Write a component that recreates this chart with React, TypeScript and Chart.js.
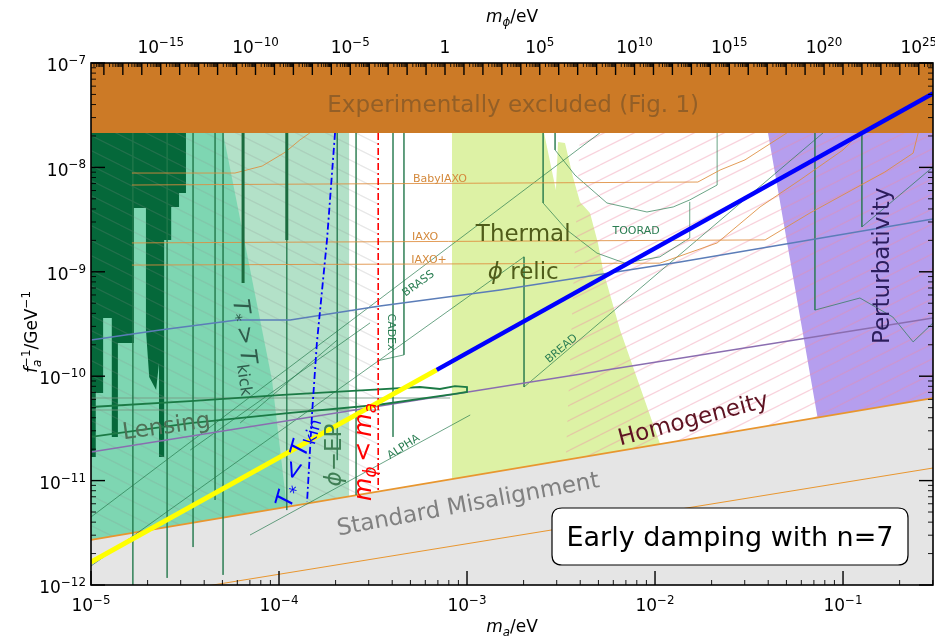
import React, { useEffect, useRef } from 'react';
import { Chart, registerables } from 'chart.js';
Chart.register(...registerables);

const FONT = '"DejaVu Sans", sans-serif';
type P = [number, number];

// ---- axis ranges ----
const X_MIN = 1e-5, X_MAX = 0.301;
const Y_MIN = 1e-12, Y_MAX = 1e-7;
const PHI_MIN = 2.09e-19, PHI_MAX = 5.62e25;

// ---- tick labels ----
const xTickValues = [1e-5, 1e-4, 1e-3, 1e-2, 1e-1];
const xTickExps = ['−5', '−4', '−3', '−2', '−1'];
const yTickValues = [1e-12, 1e-11, 1e-10, 1e-9, 1e-8, 1e-7];
const yTickExps = ['−12', '−11', '−10', '−9', '−8', '−7'];
const phiTickValues = [1e-15, 1e-10, 1e-5, 1, 1e5, 1e10, 1e15, 1e20, 1e25];
const phiTickExps = ['−15', '−10', '−5', '', '5', '10', '15', '20', '25'];

// ---- regions (m_a [eV], 1/f_a [GeV^-1]) ----
const excludedBand: P[] = [[1e-5, 2.14e-8], [0.301, 2.14e-8]];
const misalignLine: P[] = [[1e-5, 2.70e-12], [0.301, 6.18e-11]];
const misalignThin: P[] = [[1e-5, 6.46e-13], [0.301, 1.32e-11]];
const lightGreenRegion: P[] = [[1e-5, 2.14e-8], [2.36e-4, 2.14e-8], [2.36e-4, 1e-12], [1e-5, 1e-12]];
const tealRegion: P[] = [[1e-5, 2.14e-8], [5.04e-5, 2.14e-8], [9.18e-5, 9.2e-11], [1.10e-4, 5.58e-12], [1.2e-4, 1e-12], [1e-5, 1e-12]];
const darkGreenRegion: P[] = [
  [1e-5, 2.14e-8], [3.20e-5, 2.14e-8], [3.20e-5, 5.69e-9], [2.94e-5, 5.69e-9], [2.94e-5, 4.18e-9],
  [2.67e-5, 4.18e-9], [2.67e-5, 2.02e-9], [2.45e-5, 2.02e-9], [2.45e-5, 1.68e-11], [2.30e-5, 1.68e-11],
  [2.30e-5, 1.34e-10], [2.22e-5, 7.38e-11], [2.04e-5, 9.82e-11], [1.96e-5, 2.77e-10], [1.96e-5, 4.09e-9],
  [1.69e-5, 4.09e-9], [1.69e-5, 2.08e-10], [1.39e-5, 2.08e-10], [1.39e-5, 2.62e-11], [1.29e-5, 2.62e-11],
  [1.29e-5, 3.61e-10], [1.16e-5, 3.61e-10], [1.16e-5, 6.90e-11], [1.06e-5, 6.90e-11], [1.06e-5, 1.68e-11],
  [1e-5, 1.68e-11],
];
const thermalRegion: P[] = [
  [8.32e-4, 2.14e-8], [2.57e-3, 2.14e-8], [2.97e-3, 6.08e-9], [3.05e-3, 1.75e-8], [3.32e-3, 1.71e-8],
  [3.66e-3, 8.09e-9], [3.99e-3, 4.67e-9], [4.51e-3, 3.66e-9], [4.97e-3, 1.89e-9], [5.29e-3, 1.04e-9],
  [6.52e-3, 2.77e-10], [1.064e-2, 2.24e-11], [1.89e-2, 1e-12], [8.32e-4, 1e-12],
];
const grayHatchRegion: P[] = [[1e-5, 2.14e-8], [3.37e-4, 2.14e-8], [3.37e-4, 1e-12], [1e-5, 1e-12]];
const pinkHatchRegion: P[] = [[3.99e-3, 2.14e-8], [0.301, 2.14e-8], [0.301, 1e-12], [3.13e-3, 1e-12]];
const purpleRegion: P[] = [[3.99e-2, 2.14e-8], [0.301, 2.14e-8], [0.301, 1e-12], [0.105, 1e-12], [7.36e-2, 3.80e-11]];

// ---- main damping line ----
const dampYellow: P[] = [[1e-5, 1.66e-12], [6.9e-4, 1.15e-10]];
const dampBlue: P[] = [[6.9e-4, 1.15e-10], [0.301, 5.1e-8]];

// ---- other curves ----
const steelBlueLine: P[] = [[1e-5, 2.22e-10], [2.33e-5, 2.77e-10], [5.98e-5, 3.45e-10], [1.146e-4, 3.45e-10], [3.44e-4, 4.70e-10], [1.50e-3, 6.69e-10], [1.358e-2, 1.24e-9], [0.301, 3.21e-9]];
const purpleLine: P[] = [[1e-5, 1.88e-11], [0.301, 3.61e-10]];
const greenLoop: P[] = [
  [1e-5, 5.07e-11], [3.37e-5, 5.78e-11], [1.05e-4, 6.61e-11], [3.05e-4, 7.38e-11], [5.62e-4, 7.88e-11],
  [7.18e-4, 7.54e-11], [8.63e-4, 8.05e-11], [1.0e-3, 7.88e-11], [1.0e-3, 7.06e-11], [8.63e-4, 6.76e-11],
  [3.32e-4, 5.30e-11], [1.15e-4, 4.45e-11], [3.37e-5, 3.56e-11], [1e-5, 2.62e-11],
];
const paleLines: P[][] = [
  [[1e-5, 6.18e-11], [8.13e-4, 6.18e-11]],
  [[1e-5, 4.74e-11], [3.44e-4, 4.74e-11]],
];
const thickGreenLines: P[][] = [
  [[6.44e-5, 2.14e-8], [6.44e-5, 7.81e-10]],
  [[1.10e-4, 2.14e-8], [1.10e-4, 2.02e-9]],
];
const outlineLines: P[][] = [
  [[1.67e-5, 2.14e-8], [1.67e-5, 1e-12]],
  [[2.54e-5, 2.14e-8], [2.54e-5, 1.17e-12]],
  [[3.49e-5, 2.14e-8], [3.49e-5, 2.31e-12]],
  [[4.57e-5, 2.14e-8], [4.57e-5, 6.52e-12]],
  [[5.04e-5, 2.14e-8], [5.04e-5, 1.25e-12]],
  [[1.10e-4, 2.14e-8], [1.10e-4, 5.22e-12]],
  [[2.04e-4, 2.14e-8], [2.04e-4, 1.57e-11]],
  [[2.57e-4, 2.14e-8], [2.57e-4, 7.28e-12]],
  [[4.04e-4, 2.14e-8], [4.04e-4, 2.62e-11]],
  [[4.62e-4, 2.14e-8], [4.62e-4, 1.60e-10], [3.32e-4, 1.40e-10]],
  [[1e-5, 4.48e-12], [5.09e-3, 2.14e-8]],
  [[1e-5, 1.52e-12], [2.01e-3, 1.39e-9], [2.01e-3, 7.88e-11], [7.83e-2, 2.14e-8]],
  [[7.01e-5, 3.01e-12], [1.04e-3, 4.25e-11]],
  [[3.37e-5, 1.96e-11], [3.05e-4, 3.24e-10]],
  [[6.21e-5, 3.56e-11], [2.04e-4, 2.22e-10]],
  [[2.94e-3, 2.14e-8], [2.94e-3, 1.47e-8], [3.75e-3, 8.45e-9], [5.55e-3, 4.56e-9], [9.06e-3, 3.74e-9], [1.25e-2, 4.18e-9], [1.53e-2, 4.88e-9], [2.14e-2, 6.78e-9], [2.14e-2, 2.14e-8]],
  [[2.54e-3, 2.14e-8], [2.54e-3, 4.56e-9], [3.40e-3, 2.51e-9], [4.91e-3, 1.51e-9], [6.92e-3, 1.21e-9], [1.06e-2, 1.39e-9], [1.53e-2, 2.11e-9], [1.53e-2, 4.67e-9]],
  [[7.09e-2, 2.14e-8], [7.09e-2, 4.30e-10], [0.123, 5.61e-10], [0.184, 3.69e-10], [0.236, 2.13e-10], [0.301, 3.24e-10]],
  [[0.126, 2.14e-8], [0.126, 2.69e-9], [0.301, 1.01e-8]],
];
const orangeLines: P[][] = [
  [[1.65e-5, 6.78e-9], [1.69e-2, 7.24e-9], [2.22e-2, 9.44e-9], [3.01e-2, 1.18e-8], [5.03e-2, 2.14e-8]],
  [[1.65e-5, 8.83e-9], [5.83e-5, 8.83e-9], [8.13e-5, 1.03e-8], [1.08e-4, 1.40e-8], [1.29e-4, 1.83e-8], [1.46e-4, 2.14e-8]],
  [[1.65e-5, 1.89e-9], [3.85e-2, 2.02e-9], [6.67e-2, 3.66e-9], [0.167, 9.04e-9], [0.236, 1.37e-8], [0.251, 2.14e-8]],
  [[1.65e-5, 1.16e-9], [1.06e-2, 1.21e-9], [2.14e-2, 1.89e-9], [3.62e-2, 4.18e-9], [5.90e-2, 7.57e-9], [0.1, 1.47e-8], [0.123, 2.14e-8]],
];
const redDashDot: P[] = [[3.37e-4, 2.14e-8], [3.37e-4, 7.78e-12]];
const blueDashDot: P[] = [[1.986e-4, 2.14e-8], [1.80e-4, 2.02e-9], [1.59e-4, 2.08e-10], [1.50e-4, 4.45e-11], [1.41e-4, 6.24e-12]];

// ---- text annotations ----
type Seg = { t: string; s?: 'sub' | 'sup'; it?: boolean; sup?: string };
type Label = { segs: Seg[]; x: number; y: number; size: number; color: string; rot: number };
const TS = '\u2009';
const textLabels: Label[] = [
  { segs: [{ t: 'Experimentally excluded (Fig. 1)' }], x: 1.76e-3, y: 4.05e-8, size: 23, color: '#935f27', rot: 0 },
  { segs: [{ t: 'Thermal' }], x: 1.99e-3, y: 2.36e-9, size: 23, color: '#4f5c1a', rot: 0 },
  { segs: [{ t: 'ϕ', it: true }, { t: ' relic' }], x: 1.99e-3, y: 1.02e-9, size: 23, color: '#4f5c1a', rot: 0 },
  { segs: [{ t: 'Homogeneity' }], x: 1.59e-2, y: 3.98e-11, size: 23, color: '#5e1322', rot: -14.7 },
  { segs: [{ t: 'Perturbativity' }], x: 0.159, y: 1.14e-9, size: 23, color: '#2b1d5c', rot: -90 },
  { segs: [{ t: 'Standard Misalignment' }], x: 1.01e-3, y: 6.10e-12, size: 23, color: '#808080', rot: -10.5 },
  { segs: [{ t: 'Lensing' }], x: 2.51e-5, y: 3.41e-11, size: 23, color: '#4f7157', rot: -8 },
  { segs: [{ t: 'T', it: true }, { t: '*', s: 'sub' }, { t: TS + '>' + TS }, { t: 'T', it: true }, { t: 'kick', s: 'sub' }], x: 6.84e-5, y: 1.91e-10, size: 23, color: '#2f5d4c', rot: 82 },
  { segs: [{ t: 'T', it: true }, { t: '*', s: 'sub' }, { t: TS + '<' + TS }, { t: 'T', it: true }, { t: 'kin', s: 'sub' }], x: 1.22e-4, y: 1.51e-11, size: 24, color: '#0000ff', rot: -74 },
  { segs: [{ t: 'ϕ', it: true }, { t: '−EP' }], x: 1.94e-4, y: 1.76e-11, size: 23, color: '#3f7f55', rot: -90 },
  { segs: [{ t: 'm', it: true }, { t: 'ϕ', s: 'sub', it: true }, { t: TS + '<' + TS }, { t: 'm', it: true }, { t: 'a', s: 'sub', it: true }], x: 2.76e-4, y: 1.88e-11, size: 24, color: '#ff0000', rot: -90 },
  { segs: [{ t: 'BabyIAXO' }], x: 7.18e-4, y: 7.91e-9, size: 11, color: '#d4893c', rot: 0 },
  { segs: [{ t: 'IAXO' }], x: 5.98e-4, y: 2.20e-9, size: 11, color: '#d4893c', rot: 0 },
  { segs: [{ t: 'IAXO+' }], x: 6.28e-4, y: 1.33e-9, size: 11, color: '#d4893c', rot: 0 },
  { segs: [{ t: 'BRASS' }], x: 5.48e-4, y: 7.82e-10, size: 11, color: '#2a7d52', rot: -36 },
  { segs: [{ t: 'CADEx' }], x: 3.99e-4, y: 2.65e-10, size: 11, color: '#2a7d52', rot: 90 },
  { segs: [{ t: 'ALPHA' }], x: 4.57e-4, y: 2.14e-11, size: 11, color: '#2a7d52', rot: -33 },
  { segs: [{ t: 'BREAD' }], x: 3.16e-3, y: 1.86e-10, size: 11, color: '#2a7d52', rot: -40 },
  { segs: [{ t: 'TOORAD' }], x: 7.93e-3, y: 2.51e-9, size: 11, color: '#2a7d52', rot: 0 },
];
const boxText = 'Early damping with n=7';

function segFont(size: number, it?: boolean) {
  return `${it ? 'italic ' : ''}${size}px ${FONT}`;
}

function drawRich(ctx: CanvasRenderingContext2D, segs: Seg[], x: number, y: number, size: number, color: string, align: 'left' | 'center' | 'right' = 'center', rot = 0) {
  ctx.save();
  ctx.translate(x, y);
  ctx.rotate((rot * Math.PI) / 180);
  ctx.fillStyle = color;
  ctx.textBaseline = 'alphabetic';
  ctx.textAlign = 'left';
  const small = size * 0.7;
  const widths = segs.map((s) => {
    ctx.font = segFont(s.s ? small : size, s.it);
    let w = ctx.measureText(s.t).width;
    if (s.sup) {
      ctx.font = segFont(small, false);
      w = Math.max(w, ctx.measureText(s.sup).width);
    }
    return w;
  });
  const total = widths.reduce((a, b) => a + b, 0);
  let cx = align === 'center' ? -total / 2 : align === 'right' ? -total : 0;
  const base = size * 0.36;
  segs.forEach((s, i) => {
    ctx.font = segFont(s.s ? small : size, s.it);
    const dy = s.s === 'sup' ? -size * 0.42 : s.s === 'sub' ? size * 0.22 : 0;
    ctx.fillText(s.t, cx, base + dy);
    if (s.sup) {
      ctx.font = segFont(small, false);
      ctx.fillText(s.sup, cx, base - size * 0.42);
    }
    cx += widths[i];
  });
  ctx.restore();
}

function drawLogTicks(ctx: CanvasRenderingContext2D, scale: any, side: string, area: any, majorLen: number, minorLen: number) {
  const min = scale.min, max = scale.max;
  const d0 = Math.floor(Math.log10(min)), d1 = Math.ceil(Math.log10(max));
  ctx.save();
  ctx.strokeStyle = '#000';
  for (let d = d0; d <= d1; d++) {
    for (let k = 1; k <= 9; k++) {
      const v = k * Math.pow(10, d);
      if (v < min * 0.999 || v > max * 1.001) continue;
      const p = scale.getPixelForValue(v);
      const len = k === 1 ? majorLen : minorLen;
      ctx.lineWidth = k === 1 ? 1.4 : 0.9;
      ctx.beginPath();
      if (side === 'bottom') { ctx.moveTo(p, area.bottom); ctx.lineTo(p, area.bottom - len); }
      else if (side === 'top') { ctx.moveTo(p, area.top); ctx.lineTo(p, area.top + len); }
      else if (side === 'left') { ctx.moveTo(area.left, p); ctx.lineTo(area.left + len, p); }
      else { ctx.moveTo(area.right, p); ctx.lineTo(area.right - len, p); }
      ctx.stroke();
    }
  }
  ctx.restore();
}

const decoPlugin = {
  id: 'deco',
  afterDraw(chart: any) {
    const ctx: CanvasRenderingContext2D = chart.ctx;
    const area = chart.chartArea;
    const xs = chart.scales.x, ys = chart.scales.y, ps = chart.scales.phi;
    // annotations
    textLabels.forEach((l) => {
      drawRich(ctx, l.segs, xs.getPixelForValue(l.x), ys.getPixelForValue(l.y), l.size, l.color, 'center', l.rot);
    });
    // ticks
    drawLogTicks(ctx, xs, 'bottom', area, 14, 5);
    drawLogTicks(ctx, ys, 'left', area, 14, 5);
    drawLogTicks(ctx, ys, 'right', area, 14, 5);
    drawLogTicks(ctx, ps, 'top', area, 12, 4);
    // frame
    ctx.save();
    ctx.strokeStyle = '#000';
    ctx.lineWidth = 1.6;
    ctx.strokeRect(area.left, area.top, area.right - area.left, area.bottom - area.top);
    ctx.restore();
    // tick labels
    const TF = 17;
    xTickValues.forEach((v, i) => {
      drawRich(ctx, [{ t: '10' }, { t: xTickExps[i], s: 'sup' }], xs.getPixelForValue(v), area.bottom + 20, TF, '#000', 'center');
    });
    yTickValues.forEach((v, i) => {
      drawRich(ctx, [{ t: '10' }, { t: yTickExps[i], s: 'sup' }], area.left - 5, ys.getPixelForValue(v) + 2, TF, '#000', 'right');
    });
    phiTickValues.forEach((v, i) => {
      const segs: Seg[] = phiTickExps[i] === '' ? [{ t: '1' }] : [{ t: '10' }, { t: phiTickExps[i], s: 'sup' }];
      drawRich(ctx, segs, ps.getPixelForValue(v), area.top - 16, TF, '#000', 'center');
    });
    // axis titles
    const cxm = (area.left + area.right) / 2;
    drawRich(ctx, [{ t: 'm', it: true }, { t: 'a', s: 'sub', it: true }, { t: '/eV' }], cxm, area.bottom + 41, 17, '#000', 'center');
    drawRich(ctx, [{ t: 'm', it: true }, { t: 'ϕ', s: 'sub', it: true }, { t: '/eV' }], cxm, area.top - 47, 17, '#000', 'center');
    drawRich(ctx, [{ t: 'f', it: true }, { t: 'a', s: 'sub', it: true, sup: '−1' }, { t: '/GeV' }, { t: '−1', s: 'sup' }], area.left - 60, (area.top + area.bottom) / 2 + 8, 17, '#000', 'center', -90);
    // label box
    const bx0 = area.right - 381, bx1 = area.right - 25, by0 = area.bottom - 77, by1 = area.bottom - 20;
    ctx.save();
    ctx.beginPath();
    const r = 10;
    ctx.moveTo(bx0 + r, by0);
    ctx.lineTo(bx1 - r, by0);
    ctx.quadraticCurveTo(bx1, by0, bx1, by0 + r);
    ctx.lineTo(bx1, by1 - r);
    ctx.quadraticCurveTo(bx1, by1, bx1 - r, by1);
    ctx.lineTo(bx0 + r, by1);
    ctx.quadraticCurveTo(bx0, by1, bx0, by1 - r);
    ctx.lineTo(bx0, by0 + r);
    ctx.quadraticCurveTo(bx0, by0, bx0 + r, by0);
    ctx.closePath();
    ctx.fillStyle = '#fff';
    ctx.fill();
    ctx.strokeStyle = '#000';
    ctx.lineWidth = 1.2;
    ctx.stroke();
    ctx.restore();
    drawRich(ctx, [{ t: boxText }], (bx0 + bx1) / 2, (by0 + by1) / 2, 27, '#000', 'center');
  },
};

const pts = (arr: P[]) => arr.map(([x, y]) => ({ x, y }));

export default function App() {
  const canvasRef = useRef<HTMLCanvasElement | null>(null);
  useEffect(() => {
    const canvas = canvasRef.current!;
    const ctx = canvas.getContext('2d')!;
    const makeHatch = (color: string, dir: 1 | -1, lw: number) => {
      const w = 30, h = 15;
      const c = document.createElement('canvas');
      c.width = w; c.height = h;
      const g = c.getContext('2d')!;
      g.strokeStyle = color;
      g.lineWidth = lw;
      for (let k = -1; k <= 1; k++) {
        g.beginPath();
        if (dir === 1) { g.moveTo(0, h + k * h); g.lineTo(w, k * h); }
        else { g.moveTo(0, k * h); g.lineTo(w, h + k * h); }
        g.stroke();
      }
      return ctx.createPattern(c, 'repeat');
    };
    const grayHatch = makeHatch('rgba(140,140,140,0.22)', -1, 1.2);
    const pinkHatch = makeHatch('rgba(238,140,165,0.38)', 1, 1.3);

    const area = (arr: P[], color: any) => ({ data: pts(arr), backgroundColor: color, borderColor: 'rgba(0,0,0,0)', borderWidth: 0, fill: 'shape', pointRadius: 0 });
    const line = (arr: P[], color: string, width: number, extra: any = {}) => ({ data: pts(arr), borderColor: color, borderWidth: width, fill: false, pointRadius: 0, ...extra });

    const list: any[] = [
      area(lightGreenRegion, '#b3e1c8'),
      area(tealRegion, '#7ed6b2'),
      area(darkGreenRegion, '#05683a'),
      area(thermalRegion, '#ddf2a5'),
      area(purpleRegion, '#b59eee'),
      area(grayHatchRegion, grayHatch),
      area(pinkHatchRegion, pinkHatch),
      { data: pts(misalignLine), backgroundColor: '#e5e5e5', borderColor: '#e8962f', borderWidth: 1.8, fill: 'start', pointRadius: 0 },
      line(misalignThin, '#e8962f', 1),
      ...paleLines.map((l) => line(l, 'rgba(120,150,130,0.55)', 1.5)),
      ...outlineLines.map((l) => line(l, 'rgba(35,120,75,0.75)', 0.9)),
      ...orangeLines.map((l) => line(l, 'rgba(222,140,60,0.85)', 1)),
      line(steelBlueLine, '#5b7db8', 1.5),
      line(purpleLine, '#8a6db0', 1.5),
      line(greenLoop, '#1b7a45', 1.8),
      ...thickGreenLines.map((l) => line(l, '#1a6b3e', 3)),
      line(redDashDot, '#ff0000', 1.6, { borderDash: [7, 3, 2, 3] }),
      line(blueDashDot, '#0000ff', 1.8, { borderDash: [7, 3, 2, 3] }),
      { data: pts(excludedBand), backgroundColor: '#cc7a26', borderColor: '#cc7a26', borderWidth: 0, fill: 'end', pointRadius: 0 },
      line(dampYellow, '#ffff00', 5),
      line(dampBlue, '#0000ff', 4.5),
    ];
    const N = list.length;
    const datasets = list.map((d, i) => ({ ...d, order: N - i, tension: 0 }));

    const chart = new Chart(canvas, {
      type: 'line',
      data: { datasets },
      options: {
        animation: false,
        responsive: false,
        events: [],
        layout: { padding: { left: 91, right: 2, top: 63, bottom: 54 } },
        plugins: { legend: { display: false }, tooltip: { enabled: false }, filler: { propagate: false } as any },
        elements: { point: { radius: 0 }, line: { tension: 0 } },
        scales: {
          x: { type: 'logarithmic', min: X_MIN, max: X_MAX, display: false },
          y: { type: 'logarithmic', min: Y_MIN, max: Y_MAX, display: false },
          phi: { type: 'logarithmic', axis: 'x', position: 'top', min: PHI_MIN, max: PHI_MAX, display: false } as any,
        },
      } as any,
      plugins: [decoPlugin],
    });
    return () => chart.destroy();
  }, []);
  return (
    <div style={{ position: 'absolute', left: 0, top: 0, width: 935, height: 639, background: '#fff' }}>
      <canvas ref={canvasRef} width={935} height={639} style={{ display: 'block', width: 935, height: 639 }} />
    </div>
  );
}
